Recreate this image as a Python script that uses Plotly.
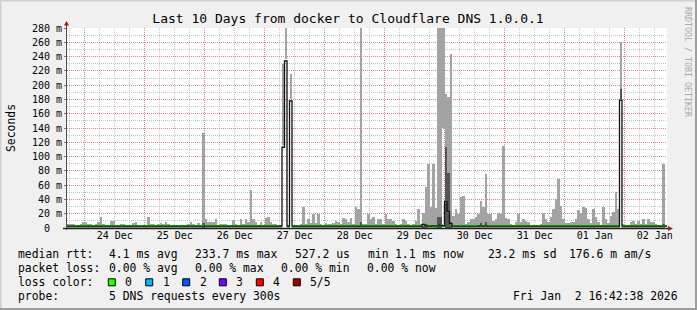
import plotly.graph_objects as go

# ---------------- data (hourly bins over the last 10 days) ----------------
smoke_hi = [
    6, 6, 6, 3, 2, 5, 9, 9, 5, 6, 2, 5, 9, 15, 5, 2, 3, 10, 10, 2,
    1, 6, 6, 3, 2, 2, 7, 9, 3, 3, 2, 2, 16, 6, 6, 3, 6, 7, 6, 9,
    6, 2, 2, 3, 2, 2, 2, 3, 6, 9, 6, 3, 7, 2, 133, 13, 9, 9, 8, 12,
    3, 5, 5, 6, 3, 3, 11, 6, 3, 12, 6, 12, 8, 53, 12, 9, 2, 8, 3, 14,
    15, 9, 6, 5, 2, 1, 230, 290, 1, 216, 1, 1, 1, 6, 29, 5, 12, 7, 20, 7,
    19, 5, 3, 7, 6, 5, 7, 10, 9, 6, 14, 12, 9, 14, 6, 30, 27, 290, 6, 6,
    19, 13, 15, 5, 12, 12, 6, 20, 12, 13, 10, 6, 3, 6, 12, 10, 5, 3, 6, 10,
    27, 5, 21, 57, 89, 29, 89, 28, 290, 290, 290, 187, 184, 244, 17, 26, 20, 44, 45, 6,
    8, 12, 12, 15, 20, 38, 30, 76, 20, 20, 10, 12, 21, 20, 115, 14, 12, 6, 2, 9,
    20, 9, 12, 10, 9, 2, 3, 3, 3, 6, 21, 13, 9, 15, 27, 40, 68, 31, 13, 7,
    7, 9, 9, 13, 25, 21, 29, 28, 12, 7, 26, 15, 9, 2, 30, 13, 7, 17, 22, 50,
    27, 261, 5, 3, 2, 8, 10, 5, 10, 6, 12, 6, 13, 9, 9, 5, 3, 3, 90, 0,
]
smoke_lo = [
    0, 0, 0, 0, 0, 0, 0, 0, 0, 0, 0, 0, 0, 0, 0, 0, 0, 0, 0, 0,
    0, 0, 0, 0, 0, 0, 0, 0, 0, 0, 0, 0, 0, 0, 0, 0, 0, 0, 0, 0,
    0, 0, 0, 0, 0, 0, 0, 0, 0, 0, 0, 0, 0, 0, 0, 0, 0, 0, 0, 0,
    0, 0, 0, 0, 0, 0, 0, 0, 0, 0, 0, 0, 0, 0, 0, 0, 0, 0, 0, 0,
    0, 0, 0, 0, 0, 0, 116, 236, 0, 180, 0, 0, 0, 0, 0, 0, 0, 0, 0, 0,
    0, 0, 0, 0, 0, 0, 0, 0, 0, 0, 0, 0, 0, 0, 0, 0, 0, 0, 0, 0,
    0, 0, 0, 0, 0, 0, 0, 0, 0, 0, 0, 0, 0, 0, 0, 0, 0, 0, 0, 0,
    0, 0, 0, 0, 0, 0, 0, 0, 0, 0, 140, 0, 0, 0, 0, 0, 0, 0, 0, 0,
    0, 0, 0, 0, 0, 0, 0, 0, 0, 0, 0, 0, 0, 0, 0, 0, 0, 0, 0, 0,
    0, 0, 0, 0, 0, 0, 0, 0, 0, 0, 0, 0, 0, 0, 0, 0, 0, 0, 0, 0,
    0, 0, 0, 0, 0, 0, 0, 0, 0, 0, 0, 0, 0, 0, 0, 0, 0, 0, 0, 0,
    0, 194, 0, 0, 0, 0, 0, 0, 0, 0, 0, 0, 0, 0, 0, 0, 0, 0, 0, 0,
]
median = [
    2.5, 2.5, 2.5, 2.5, 2.5, 2.5, 2.5, 2.5, 2.5, 2.5, 2.5, 2.5, 2.5, 2.5, 2.5, 2.5, 2.5, 2.5, 2.5, 2.5,
    2.5, 2.5, 2.5, 2.5, 2.5, 2.5, 2.5, 2.5, 2.5, 2.5, 2.5, 2.5, 2.5, 2.5, 2.5, 2.5, 2.5, 2.5, 2.5, 2.5,
    2.5, 2.5, 2.5, 2.5, 2.5, 2.5, 2.5, 2.5, 2.5, 2.5, 2.5, 2.5, 2.5, 2.5, 2.5, 2.5, 2.5, 2.5, 2.5, 2.5,
    2.5, 2.5, 2.5, 2.5, 2.5, 2.5, 2.5, 2.5, 2.5, 2.5, 2.5, 2.5, 2.5, 2.5, 2.5, 2.5, 2.5, 2.5, 2.5, 2.5,
    2.5, 2.5, 2.5, 2.5, 2.5, 2.5, 113, 234, 2.5, 178, 2.5, 2.5, 2.5, 2.5, 2.5, 2.5, 2.5, 2.5, 2.5, 2.5,
    2.5, 2.5, 2.5, 2.5, 2.5, 2.5, 2.5, 2.5, 2.5, 2.5, 2.5, 2.5, 2.5, 2.5, 2.5, 2.5, 2.5, 2.5, 2.5, 2.5,
    2.5, 2.5, 2.5, 2.5, 2.5, 2.5, 2.5, 2.5, 2.5, 2.5, 2.5, 2.5, 2.5, 2.5, 2.5, 2.5, 2.5, 2.5, 2.5, 2.5,
    2.5, 2.5, 5, 4, 2.5, 2.5, 3, 2.5, 3, 4, 3, 37, 23, 6, 2.5, 2.5, 2.5, 2.5, 2.5, 2.5,
    2.5, 2.5, 2.5, 2.5, 2.5, 3, 2.5, 3, 2.5, 2.5, 2.5, 2.5, 2.5, 2.5, 2.5, 2.5, 2.5, 2.5, 2.5, 2.5,
    2.5, 2.5, 2.5, 2.5, 2.5, 2.5, 2.5, 2.5, 2.5, 2.5, 2.5, 2.5, 2.5, 2.5, 2.5, 2.5, 2.5, 2.5, 2.5, 2.5,
    2.5, 2.5, 2.5, 2.5, 2.5, 2.5, 2.5, 2.5, 2.5, 2.5, 2.5, 2.5, 2.5, 2.5, 2.5, 2.5, 2.5, 2.5, 2.5, 2.5,
    2.5, 179, 2.5, 2.5, 2.5, 2.5, 2.5, 2.5, 2.5, 2.5, 2.5, 2.5, 2.5, 2.5, 2.5, 2.5, 2.5, 2.5, 2.5, 2.5,
]
# darker inner smoke (sparse)
dark_hours = [54, 117, 142, 143, 148, 149, 151, 152, 153, 165, 167, 221, 238]
dark_lo    = [0, 2, 0, 0, 0, 0, 0, 0, 0, 2, 3, 180, 2]
dark_hi    = [7, 9, 5, 4, 15, 15, 114, 77, 8, 7, 9, 194, 6]

first_midnight = 7.1          # hours from the left edge to 24 Dec 00:00
day_labels = ["24 Dec", "25 Dec", "26 Dec", "27 Dec", "28 Dec",
              "29 Dec", "30 Dec", "31 Dec", "01 Jan", "02 Jan"]
y_values = [0, 20, 40, 60, 80, 100, 120, 140, 160, 180, 200, 220, 240, 260, 280]
y_labels = ["0\u00a0\u00a0", "20 m", "40 m", "60 m", "80 m", "100 m", "120 m", "140 m",
            "160 m", "180 m", "200 m", "220 m", "240 m", "260 m", "280 m"]

loss_labels = ["0", "1", "2", "3", "4", "5/5"]
loss_colors = ["#26ff00", "#00b8ff", "#0059ff", "#7e00ff", "#ff0000", "#a10000"]

rtt_stats = ["4.1 ms avg", "233.7 ms max", "527.2 us", "min", "1.1 ms now", "23.2 ms sd", "176.6 m am/s"]
loss_stats = ["0.00 % avg", "0.00 % max", "0.00 % min", "0.00 % now"]
title = "Last 10 Days from docker to Cloudflare DNS 1.0.0.1"
probe_text = "5 DNS requests every 300s"
stamp = "Fri Jan  2 16:42:38 2026"

# ---------------- layout geometry ----------------
W, H = 697, 310
L, R, T, B = 67, 667, 28, 228
MONO = "DejaVu Sans Mono"


def px(x):
    return (x - L) / (R - L)


def py(y):
    return (B - y) / (B - T)


hours = list(range(len(smoke_hi)))
centers = [h + 0.5 for h in hours]

fig = go.Figure()

# smoke
fig.add_trace(go.Bar(
    x=centers, y=[hi - lo for hi, lo in zip(smoke_hi, smoke_lo)], base=smoke_lo,
    width=1, marker=dict(color="#a3a3a3", line=dict(width=0)), hoverinfo="skip"))
fig.add_trace(go.Bar(
    x=[h + 0.5 for h in dark_hours], y=[hi - lo for hi, lo in zip(dark_hi, dark_lo)], base=dark_lo,
    width=1, marker=dict(color="#555555", line=dict(width=0)), hoverinfo="skip"))
# median line (step) + loss-coloured median markers
fig.add_trace(go.Scatter(
    x=hours + [len(hours)], y=median + [median[-1]], mode="lines", line_shape="hv",
    line=dict(color="#101010", width=1.3), hoverinfo="skip"))
fig.add_trace(go.Bar(
    x=centers, y=[3.0] * len(median), base=[m - 1.5 for m in median],
    width=1, marker=dict(color=loss_colors[0], line=dict(width=0)), hoverinfo="skip"))

midnights = [first_midnight + 24 * k for k in range(len(day_labels))]

fig.update_layout(
    width=W, height=H, margin=dict(l=L, r=W - R, t=T, b=H - B),
    paper_bgcolor="#f0f0f0", plot_bgcolor="#ffffff",
    barmode="overlay", bargap=0, showlegend=False,
    font=dict(family=MONO, color="#000000"),
    title=dict(text=title, x=348 / W, xanchor="center", y=1 - 18 / H, yanchor="middle",
               font=dict(family=MONO, size=13, color="#000000")),
    xaxis=dict(range=[0, 240], tickmode="array", tickvals=midnights, ticktext=day_labels,
               ticklabelshift=30, ticks="", showline=False, zeroline=False,
               tickfont=dict(family=MONO, size=10, color="#000000"),
               showgrid=True, gridcolor="rgba(228,90,90,0.55)", griddash="1px,1px", gridwidth=1,
               minor=dict(tick0=first_midnight, dtick=6, showgrid=True,
                          gridcolor="rgba(150,150,150,0.55)", griddash="1px,1px", gridwidth=1)),
    yaxis=dict(range=[0, 280], tickmode="array", tickvals=y_values, ticktext=y_labels,
               ticks="outside", ticklen=2, tickcolor="#777777", showline=False, zeroline=False,
               tickfont=dict(family=MONO, size=10, color="#000000"),
               showgrid=True, gridcolor="rgba(228,90,90,0.55)", griddash="1px,1px", gridwidth=1,
               minor=dict(dtick=10, showgrid=True,
                          gridcolor="rgba(150,150,150,0.55)", griddash="1px,1px", gridwidth=1)),
)

shapes = []
# image frame
shapes.append(dict(type="line", xref="paper", yref="paper", x0=px(0), x1=px(W), y0=py(0.5), y1=py(0.5),
                   line=dict(color="#cfcfcf", width=2)))
shapes.append(dict(type="line", xref="paper", yref="paper", x0=px(0.5), x1=px(0.5), y0=py(0), y1=py(H),
                   line=dict(color="#cfcfcf", width=2)))
shapes.append(dict(type="line", xref="paper", yref="paper", x0=px(0), x1=px(W), y0=py(H - 1), y1=py(H - 1),
                   line=dict(color="#9e9e9e", width=2)))
shapes.append(dict(type="line", xref="paper", yref="paper", x0=px(W - 1), x1=px(W - 1), y0=py(0), y1=py(H),
                   line=dict(color="#9e9e9e", width=2)))
# axes with arrows
shapes.append(dict(type="line", xref="paper", yref="paper", x0=px(66.5), x1=px(66.5), y0=py(230), y1=py(24),
                   line=dict(color="#505050", width=1)))
shapes.append(dict(type="line", xref="paper", yref="paper", x0=px(63), x1=px(669), y0=py(228.5), y1=py(228.5),
                   line=dict(color="#202020", width=1.5)))
shapes.append(dict(type="path", xref="paper", yref="paper",
                   path=f"M{px(64)},{py(25.5)} L{px(69)},{py(25.5)} L{px(66.5)},{py(21)} Z",
                   fillcolor="#9b1c1c", line=dict(width=0)))
shapes.append(dict(type="path", xref="paper", yref="paper",
                   path=f"M{px(668)},{py(226)} L{px(668)},{py(231)} L{px(673)},{py(228.5)} Z",
                   fillcolor="#9b1c1c", line=dict(width=0)))
# loss colour boxes
box_x = [108.3, 145.7, 182.7, 219.3, 256.3, 293.3]
for bx, col in zip(box_x, loss_colors):
    shapes.append(dict(type="rect", xref="paper", yref="paper", x0=px(bx), x1=px(bx + 7),
                       y0=py(285.8), y1=py(278.8), fillcolor=col, line=dict(color="#000000", width=1)))
fig.update_layout(shapes=shapes)

LEG = 11.4
ann = []


def text(x, y, s, size=LEG, anchor="left", color="#000000", angle=0):
    ann.append(dict(x=px(x), y=py(y), xref="paper", yref="paper", text=s, showarrow=False,
                    xanchor=anchor, yanchor="middle", textangle=angle,
                    font=dict(family=MONO, size=size, color=color)))


text(11, 128, "Seconds", angle=-90, anchor="center")
text(688, 62, "RRDTOOL / TOBI OETIKER", size=8.3, anchor="center", color="#a8a8a8", angle=90)

text(16, 254.3, "median rtt:")
for xx, s in zip([107.3, 193.3, 292.7, 366, 393.3, 486, 566.7], rtt_stats):
    text(xx, 254.3, s)
text(16, 268.3, "packet loss:")
for xx, s in zip([107.3, 193.3, 279.3, 365], loss_stats):
    text(xx, 268.3, s)
text(16, 282.3, "loss color:")
for xx, s in zip([123.3, 160.7, 197.7, 234.3, 271, 308.3], loss_labels):
    text(xx, 282.3, s)
text(16, 296.2, "probe:")
text(107.3, 296.2, probe_text)
text(680, 296.2, stamp, anchor="right")
fig.update_layout(annotations=ann)

fig.write_html("out.html")
